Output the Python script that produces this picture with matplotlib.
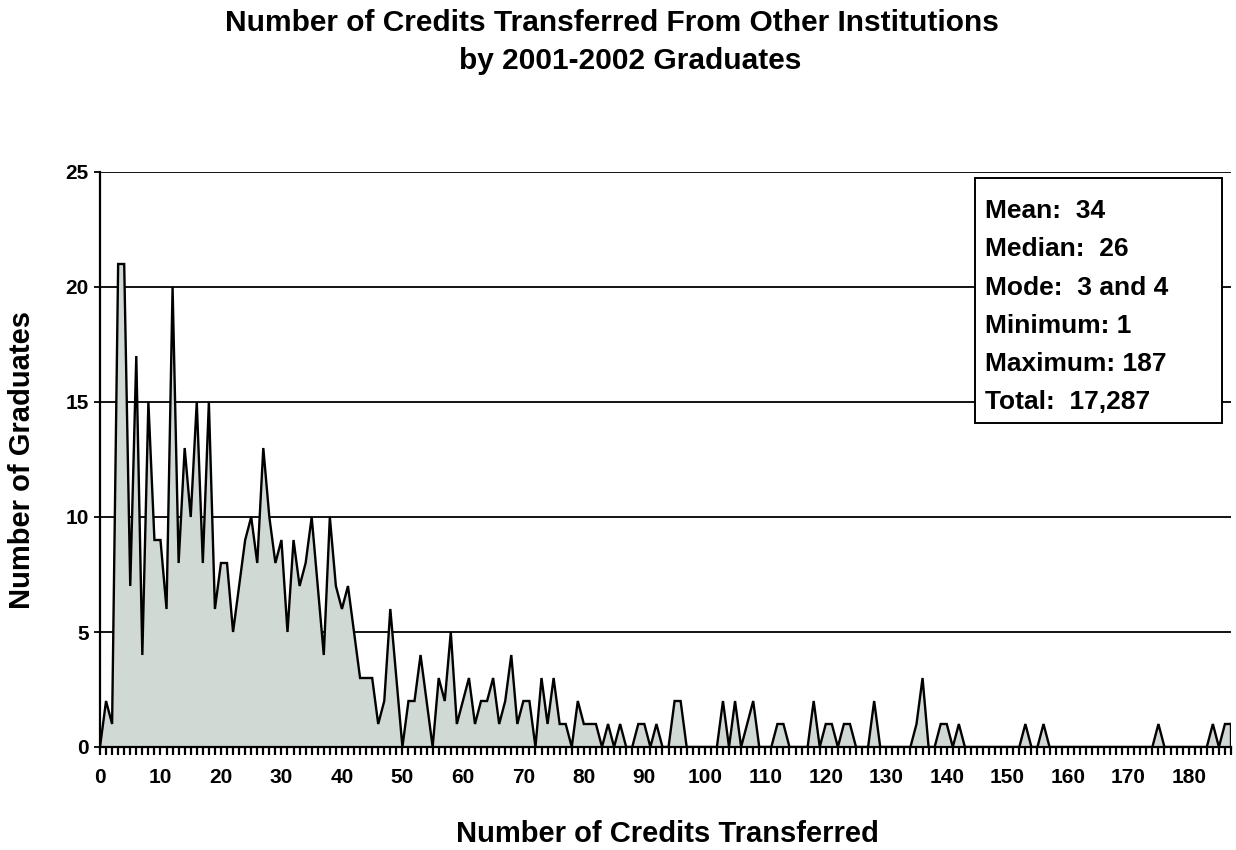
import matplotlib
matplotlib.use("Agg")
import matplotlib.pyplot as plt
from matplotlib.patches import Rectangle
from matplotlib.ticker import MultipleLocator

# ---- data ----
credits = list(range(0, 188))
graduates = [
    0, 2, 1, 21, 21, 7, 17, 4, 15, 9,          # 0-9
    9, 6, 20, 8, 13, 10, 15, 8, 15, 6,         # 10-19
    8, 8, 5, 7, 9, 10, 8, 13, 10, 8,           # 20-29
    9, 5, 9, 7, 8, 10, 7, 4, 10, 7,            # 30-39
    6, 7, 5, 3, 3, 3, 1, 2, 6, 3,              # 40-49
    0, 2, 2, 4, 2, 0, 3, 2, 5, 1,              # 50-59
    2, 3, 1, 2, 2, 3, 1, 2, 4, 1,              # 60-69
    2, 2, 0, 3, 1, 3, 1, 1, 0, 2,              # 70-79
    1, 1, 1, 0, 1, 0, 1, 0, 0, 1,              # 80-89
    1, 0, 1, 0, 0, 2, 2, 0, 0, 0,              # 90-99
    0, 0, 0, 2, 0, 2, 0, 1, 2, 0,              # 100-109
    0, 0, 1, 1, 0, 0, 0, 0, 2, 0,              # 110-119
    1, 1, 0, 1, 1, 0, 0, 0, 2, 0,              # 120-129
    0, 0, 0, 0, 0, 1, 3, 0, 0, 1,              # 130-139
    1, 0, 1, 0, 0, 0, 0, 0, 0, 0,              # 140-149
    0, 0, 0, 1, 0, 0, 1, 0, 0, 0,              # 150-159
    0, 0, 0, 0, 0, 0, 0, 0, 0, 0,              # 160-169
    0, 0, 0, 0, 0, 1, 0, 0, 0, 0,              # 170-179
    0, 0, 0, 0, 1, 0, 1, 1,                    # 180-187
]
x_ticks = list(range(0, 181, 10))
y_ticks = [0, 5, 10, 15, 20, 25]
stats_lines = ["Mean:  34", "Median:  26", "Mode:  3 and 4",
               "Minimum: 1", "Maximum: 187", "Total:  17,287"]
title_lines = ["Number of Credits Transferred From Other Institutions",
               "by 2001-2002 Graduates"]
xlabel_text = "Number of Credits Transferred"
ylabel_text = "Number of Graduates"

plt.rcParams['font.family'] = ['Liberation Sans', 'DejaVu Sans']
plt.rcParams['font.weight'] = 'bold'

W, H = 1236, 850
fig = plt.figure(figsize=(W / 100, H / 100), dpi=100)
fig.patch.set_facecolor('white')

ax = fig.add_axes([100 / W, 1 - 747 / H, (1231 - 100) / W, (747 - 172) / H])
ax.set_xlim(0, 187)
ax.set_ylim(0, 25)

# grid lines
for yv in y_ticks[1:]:
    ax.axhline(yv, color='black', lw=1.3, zorder=1)

ax.fill_between(credits, graduates, 0, facecolor='#d1d9d5', edgecolor='none', zorder=2)
ax.plot(credits, graduates, color='black', lw=1.7, zorder=3, solid_joinstyle='miter')
ax.plot([credits[-1], credits[-1]], [graduates[-1], 0], color='black', lw=1.7, zorder=3)

for s in ['top', 'right']:
    ax.spines[s].set_visible(False)
ax.spines['left'].set_linewidth(1.6)
ax.spines['bottom'].set_linewidth(1.6)
ax.spines['left'].set_zorder(4)
ax.spines['bottom'].set_zorder(4)

ax.set_xticks(x_ticks)
ax.xaxis.set_minor_locator(MultipleLocator(1))
ax.set_yticks(y_ticks)
ax.tick_params(axis='x', which='both', direction='out', length=6, width=1.6, color='black')
ax.tick_params(axis='x', which='major', pad=9, labelsize=15)
ax.tick_params(axis='y', which='major', direction='out', length=4, width=1.3, pad=4, labelsize=15)
for lab in ax.get_xticklabels() + ax.get_yticklabels():
    lab.set_fontweight('bold')

fig.text(612 / W, 1 - 23 / H, title_lines[0], ha='center', va='center', fontsize=21.5,
         fontweight='bold')
fig.text(630 / W, 1 - 61 / H, title_lines[1], ha='center', va='center', fontsize=21.5,
         fontweight='bold')
fig.text(667 / W, 1 - 834 / H, xlabel_text, ha='center', va='center', fontsize=21,
         fontweight='bold')
fig.text(22 / W, 1 - 460 / H, ylabel_text, ha='center', va='center', fontsize=21,
         fontweight='bold', rotation=90)

# statistics box
box = Rectangle((975 / W, 1 - 423 / H), (1222 - 975) / W, (423 - 178) / H,
                transform=fig.transFigure, facecolor='white', edgecolor='black',
                lw=1.4, zorder=10)
fig.patches.append(box)
line_y = [211, 249, 288, 326, 364, 402]
for txt, yy in zip(stats_lines, line_y):
    fig.text(985 / W, 1 - yy / H, txt, ha='left', va='center', fontsize=19,
             fontweight='bold', zorder=11)

fig.savefig('out.png', dpi=100)
